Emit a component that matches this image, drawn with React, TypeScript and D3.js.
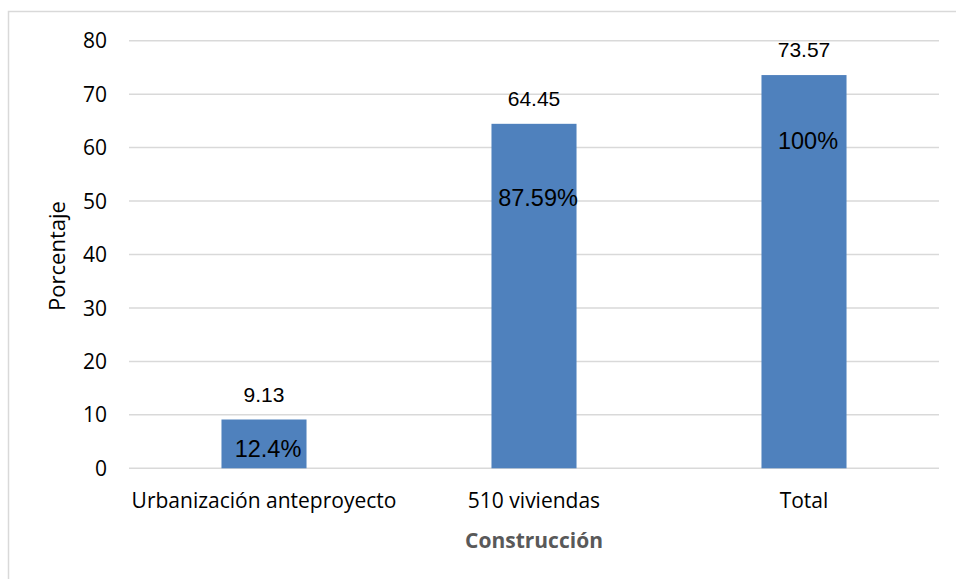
import React, { useEffect, useRef } from "react";
import * as d3 from "d3";

// Construction progress by item (percent of work)
const categories = ["Urbanización anteproyecto", "510 viviendas", "Total"];
const values = [9.13, 64.45, 73.57];
const shareLabels = ["12.4%", "87.59%", "100%"];
const yTicks = [0, 10, 20, 30, 40, 50, 60, 70, 80];

const W = 956;
const H = 579;
const plot = { left: 129, right: 939, top: 40.7, bottom: 468.3 };
// distance (px) from each bar's top down to the baseline of its share label
const shareOffsets = [37, 82, 74];

const calibriLike = "'Open Sans', 'DejaVu Sans', sans-serif";
const arialLike = "'Liberation Sans', Arial, sans-serif";

export default function App() {
  const ref = useRef<SVGSVGElement | null>(null);

  useEffect(() => {
    document.body.style.margin = "0";
    const svg = d3.select(ref.current);
    svg.selectAll("*").remove();

    svg.append("rect").attr("width", W).attr("height", H).attr("fill", "#ffffff");
    // chart area frame
    svg
      .append("rect")
      .attr("x", 8.5)
      .attr("y", 11.5)
      .attr("width", W + 20)
      .attr("height", H + 20)
      .attr("fill", "none")
      .attr("stroke", "#d9d9d9")
      .attr("stroke-width", 1.5);

    const x = d3
      .scaleBand<string>()
      .domain(categories)
      .range([plot.left, plot.right])
      .paddingInner(0.685)
      .paddingOuter(0.3425);

    const y = d3.scaleLinear().domain([0, 80]).range([plot.bottom, plot.top]);

    // gridlines
    svg
      .append("g")
      .selectAll("line")
      .data(yTicks)
      .join("line")
      .attr("x1", plot.left)
      .attr("x2", plot.right)
      .attr("y1", (d) => y(d))
      .attr("y2", (d) => y(d))
      .attr("stroke", "#d9d9d9")
      .attr("stroke-width", 1.5);

    // y tick labels
    svg
      .append("g")
      .selectAll("text")
      .data(yTicks)
      .join("text")
      .attr("x", 107)
      .attr("y", (d) => y(d))
      .attr("dy", "0.36em")
      .attr("text-anchor", "end")
      .attr("font-family", calibriLike)
      .attr("font-size", 21)
      .attr("fill", "#000")
      .text((d) => String(d));

    const bars = categories.map((c, i) => ({ c, v: values[i], share: shareLabels[i], off: shareOffsets[i] }));

    svg
      .append("g")
      .selectAll("rect")
      .data(bars)
      .join("rect")
      .attr("x", (d) => x(d.c)!)
      .attr("y", (d) => y(d.v))
      .attr("width", x.bandwidth())
      .attr("height", (d) => y(0) - y(d.v))
      .attr("fill", "#4f81bd");

    // value labels above bars
    svg
      .append("g")
      .selectAll("text")
      .data(bars)
      .join("text")
      .attr("x", (d) => x(d.c)! + x.bandwidth() / 2)
      .attr("y", (d) => y(d.v) - 18)
      .attr("text-anchor", "middle")
      .attr("font-family", arialLike)
      .attr("font-size", 21)
      .attr("fill", "#000")
      .text((d) => d.v.toFixed(2));

    // share labels inside bars
    svg
      .append("g")
      .selectAll("text")
      .data(bars)
      .join("text")
      .attr("x", (d) => x(d.c)! + x.bandwidth() / 2 + 4)
      .attr("y", (d) => y(d.v) + d.off)
      .attr("text-anchor", "middle")
      .attr("font-family", arialLike)
      .attr("font-size", 23.5)
      .attr("fill", "#000")
      .text((d) => d.share);

    // category labels
    svg
      .append("g")
      .selectAll("text")
      .data(categories)
      .join("text")
      .attr("x", (d) => x(d)! + x.bandwidth() / 2)
      .attr("y", 507.5)
      .attr("text-anchor", "middle")
      .attr("font-family", calibriLike)
      .attr("font-size", 21)
      .attr("fill", "#000")
      .text((d) => d);

    // axis titles
    svg
      .append("text")
      .attr("x", (plot.left + plot.right) / 2)
      .attr("y", 548)
      .attr("text-anchor", "middle")
      .attr("font-family", calibriLike)
      .attr("font-size", 21)
      .attr("font-weight", "bold")
      .attr("fill", "#595959")
      .text("Construcción");

    svg
      .append("text")
      .attr("transform", "translate(65,256) rotate(-90)")
      .attr("text-anchor", "middle")
      .attr("font-family", calibriLike)
      .attr("font-size", 22)
      .attr("fill", "#000")
      .text("Porcentaje");
  }, []);

  return <svg ref={ref} width={W} height={H} style={{ display: "block" }} />;
}
